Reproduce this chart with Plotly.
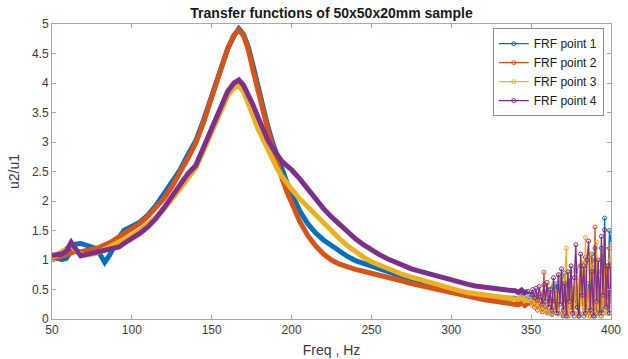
import plotly.graph_objects as go

freq = [50, 53, 56, 59, 62, 65, 68, 71, 74, 77, 80, 83, 86, 89, 92, 95,
        100, 105, 110, 115, 120, 125, 130, 135, 140, 145, 150, 155, 160,
        164, 167, 170, 173, 176, 179, 182, 185, 188, 191, 194, 197, 200,
        205, 210, 215, 220, 225, 230, 235, 240, 245, 250, 255, 260, 265, 270, 275, 280,
        285, 290, 295, 300, 305, 310, 315, 320, 325, 330, 335,
        340, 342, 344, 346, 348,
        350, 351, 352, 353, 354, 355, 356, 357, 358, 359,
        360, 361, 362, 363, 364, 365, 366, 367, 368, 369,
        370, 371, 372, 373, 374, 375, 376, 377, 378, 379,
        380, 381, 382, 383, 384, 385, 386, 387, 388, 389,
        390, 391, 392, 393, 394, 395, 396, 397, 398, 399, 400]

frf1 = [1.05, 1.03, 1.01, 1.03, 1.15, 1.27, 1.28, 1.26, 1.23, 1.20, 1.10, 0.96, 1.08, 1.25, 1.38, 1.50,
        1.56, 1.64, 1.76, 1.92, 2.12, 2.32, 2.52, 2.78, 3.02, 3.38, 3.78, 4.20, 4.58,
        4.80, 4.92, 4.82, 4.60, 4.28, 3.92, 3.58, 3.28, 3.00, 2.76, 2.55, 2.32, 2.12,
        1.84, 1.62, 1.46, 1.34, 1.24, 1.14, 1.06, 0.99, 0.94, 0.90, 0.85, 0.80, 0.76, 0.72, 0.68, 0.64,
        0.60, 0.56, 0.52, 0.49, 0.46, 0.43, 0.41, 0.39, 0.37, 0.36, 0.35,
        0.35, 0.32, 0.37, 0.31, 0.36,
        0.32, 0.40, 0.28, 0.36, 0.22, 0.42, 0.30, 0.18, 0.45, 0.25,
        0.12, 0.50, 0.30, 0.08, 0.55, 0.20, 0.60, 0.10, 0.35, 0.72,
        0.05, 0.78, 0.30, 0.10, 0.65, 0.20, 0.50, 0.05, 0.85, 0.30,
        0.10, 0.90, 0.40, 0.05, 1.05, 0.20, 0.60, 0.10, 1.10, 0.30,
        0.05, 0.95, 0.40, 0.15, 1.20, 0.10, 1.71, 0.40, 0.20, 1.50, 1.30]

frf2 = [1.00, 1.03, 1.06, 1.10, 1.14, 1.15, 1.14, 1.15, 1.17, 1.19, 1.22, 1.25, 1.29, 1.34, 1.39, 1.44,
        1.52, 1.62, 1.74, 1.88, 2.04, 2.24, 2.46, 2.72, 2.98, 3.34, 3.76, 4.20, 4.58,
        4.82, 4.90, 4.80, 4.55, 4.20, 3.85, 3.52, 3.22, 2.92, 2.62, 2.38, 2.16, 1.98,
        1.66, 1.42, 1.24, 1.10, 1.00, 0.93, 0.88, 0.84, 0.81, 0.78, 0.74, 0.71, 0.68, 0.64, 0.60, 0.57,
        0.53, 0.50, 0.46, 0.43, 0.40, 0.37, 0.35, 0.33, 0.31, 0.29, 0.27,
        0.26, 0.24, 0.28, 0.23, 0.27,
        0.25, 0.32, 0.20, 0.30, 0.15, 0.35, 0.22, 0.12, 0.79, 0.20,
        0.10, 0.40, 0.25, 0.08, 0.45, 0.15, 0.50, 0.10, 0.30, 0.60,
        0.08, 0.55, 0.20, 0.05, 0.70, 0.15, 0.40, 0.10, 0.80, 0.20,
        0.05, 0.90, 0.30, 0.10, 0.95, 0.15, 0.50, 0.05, 1.00, 0.20,
        1.56, 0.10, 0.80, 0.30, 0.05, 1.10, 0.20, 0.90, 0.10, 1.20, 0.50]

frf3 = [1.05, 1.08, 1.14, 1.20, 1.25, 1.16, 1.10, 1.08, 1.09, 1.11, 1.14, 1.18, 1.22, 1.26, 1.31, 1.35,
        1.42, 1.50, 1.60, 1.72, 1.86, 2.02, 2.20, 2.38, 2.56, 2.86, 3.18, 3.50, 3.78,
        3.92, 3.95, 3.85, 3.66, 3.44, 3.22, 3.04, 2.86, 2.70, 2.55, 2.42, 2.30, 2.20,
        2.04, 1.90, 1.76, 1.62, 1.48, 1.36, 1.24, 1.14, 1.05, 0.97, 0.91, 0.86, 0.80, 0.75, 0.71, 0.67,
        0.62, 0.58, 0.54, 0.51, 0.48, 0.45, 0.43, 0.41, 0.39, 0.37, 0.36,
        0.35, 0.33, 0.36, 0.31, 0.34,
        0.30, 0.38, 0.24, 0.40, 0.20, 0.42, 0.28, 0.15, 0.48, 0.25,
        0.12, 0.55, 0.30, 0.10, 0.60, 0.20, 0.45, 0.08, 0.75, 0.30,
        0.10, 0.65, 1.20, 0.20, 0.05, 0.80, 0.30, 0.10, 0.90, 0.05,
        0.70, 0.20, 1.00, 0.10, 1.38, 0.30, 0.05, 1.10, 0.20, 0.90,
        0.10, 1.30, 0.30, 0.05, 1.00, 0.20, 1.20, 0.10, 0.80, 0.30, 1.00]

frf4 = [1.08, 1.08, 1.10, 1.15, 1.30, 1.18, 1.07, 1.09, 1.11, 1.13, 1.15, 1.16, 1.17, 1.19, 1.22, 1.28,
        1.36, 1.45, 1.56, 1.70, 1.88, 2.08, 2.28, 2.46, 2.60, 2.92, 3.24, 3.56, 3.86,
        4.00, 4.05, 3.96, 3.80, 3.62, 3.42, 3.22, 3.04, 2.90, 2.77, 2.67, 2.60, 2.53,
        2.38, 2.20, 2.02, 1.87, 1.73, 1.60, 1.47, 1.36, 1.26, 1.17, 1.09, 1.02, 0.96, 0.90, 0.85, 0.81,
        0.77, 0.73, 0.70, 0.67, 0.63, 0.59, 0.56, 0.54, 0.51, 0.50, 0.49,
        0.48, 0.45, 0.49, 0.44, 0.47,
        0.42, 0.50, 0.36, 0.52, 0.32, 0.55, 0.38, 0.25, 0.58, 0.30,
        0.62, 0.20, 0.50, 0.15, 0.70, 0.30, 0.10, 0.75, 0.25, 0.85,
        0.15, 0.60, 0.05, 0.80, 0.30, 0.90, 0.10, 0.70, 1.26, 0.20,
        0.05, 1.10, 0.40, 0.90, 0.10, 1.00, 1.32, 0.15, 0.80, 0.05,
        1.20, 0.30, 1.00, 0.10, 1.40, 0.40, 1.51, 0.20, 0.90, 0.10, 0.90]

names = ["FRF point 1", "FRF point 2", "FRF point 3", "FRF point 4"]
colors = ["#0072BD", "#D95319", "#EDB120", "#7E2F8E"]
series = [frf1, frf2, frf3, frf4]

x_ticks = [50, 100, 150, 200, 250, 300, 350, 400]
y_ticks = [0, 0.5, 1, 1.5, 2, 2.5, 3, 3.5, 4, 4.5, 5]
y_tick_text = ["0", "0.5", "1", "1.5", "2", "2.5", "3", "3.5", "4", "4.5", "5"]

noise_start = 348

fig = go.Figure()
for name, col, vals in zip(names, colors, series):
    smooth_x = [f for f in freq if f <= noise_start]
    smooth_y = [v for f, v in zip(freq, vals) if f <= noise_start]
    noisy_x = [f for f in freq if f >= noise_start]
    noisy_y = [v for f, v in zip(freq, vals) if f >= noise_start]
    fig.add_trace(go.Scatter(x=smooth_x, y=smooth_y, mode="lines",
                             line=dict(color=col, width=5), showlegend=False,
                             hoverinfo="skip"))
    fig.add_trace(go.Scatter(x=noisy_x, y=noisy_y, mode="lines+markers", name=name,
                             line=dict(color=col, width=1.3),
                             marker=dict(symbol="circle-open", size=4, color=col,
                                         line=dict(width=1, color=col))))

font_fam = "Liberation Sans, Arial"
axis_common = dict(showgrid=False, zeroline=False, showline=True, mirror="ticks",
                   linecolor="#a8a8a8", linewidth=1, ticks="inside", ticklen=4,
                   tickcolor="#a8a8a8", automargin=False,
                   tickfont=dict(family=font_fam, size=12, color="#3a3a3a"))

fig.update_layout(
    width=628, height=359,
    margin=dict(l=52, r=17, t=24, b=40),
    paper_bgcolor="white", plot_bgcolor="white",
    title=dict(text="<b>Transfer functions of 50x50x20mm sample</b>",
               x=0.528, xanchor="center", y=0.963, yanchor="middle",
               font=dict(family=font_fam, size=14, color="#1a1a1a")),
    xaxis=dict(range=[50, 400], tickvals=x_ticks,
               title=dict(text="Freq , Hz", standoff=8,
                          font=dict(family=font_fam, size=14, color="#3a3a3a")),
               **axis_common),
    yaxis=dict(range=[0, 5], tickvals=y_ticks, ticktext=y_tick_text,
               title=dict(text="u2/u1", standoff=9,
                          font=dict(family=font_fam, size=14, color="#3a3a3a")),
               **axis_common),
    legend=dict(x=0.987, xanchor="right", y=0.986, yanchor="top",
                bgcolor="white", bordercolor="#8a8a8a", borderwidth=1,
                font=dict(family=font_fam, size=12, color="#1a1a1a"),
                tracegroupgap=0, itemwidth=30),
)

fig.write_html("out.html", config={"displayModeBar": False},
               post_script="document.body.style.margin='0';")
